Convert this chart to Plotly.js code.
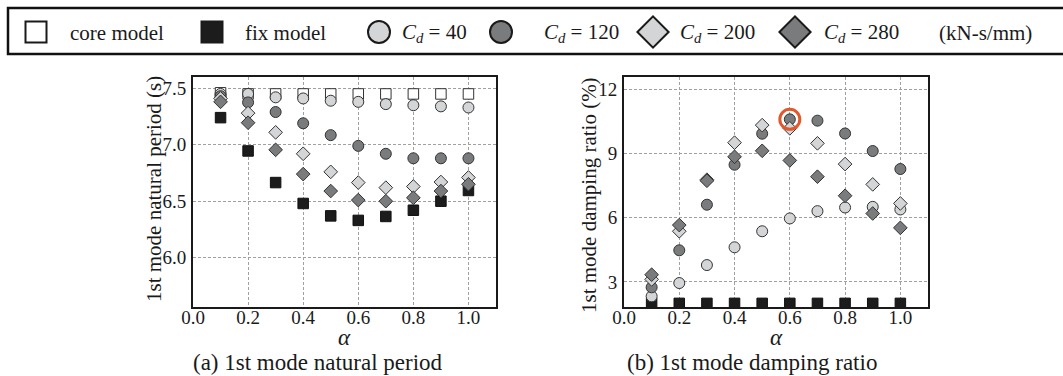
<!DOCTYPE html>
<html>
<head>
<meta charset="utf-8">
<script src="https://cdn.plot.ly/plotly-3.0.1.min.js"></script>
<style>
  html, body { margin: 0; padding: 0; background: #fff; }
  #chart { width: 1063px; height: 376px; }
</style>
</head>
<body>
<div id="chart"></div>
<script>
// Stiffness ratio alpha
const alpha = [0.1, 0.2, 0.3, 0.4, 0.5, 0.6, 0.7, 0.8, 0.9, 1.0];

// (a) 1st mode natural period (s)
const periodCore  = [7.46, 7.45, 7.45, 7.45, 7.45, 7.45, 7.45, 7.45, 7.45, 7.45];
const periodFix   = [7.24, 6.945, 6.665, 6.48, 6.37, 6.33, 6.365, 6.42, 6.50, 6.595];
const periodCd40  = [7.45, 7.45, 7.42, 7.41, 7.39, 7.38, 7.36, 7.35, 7.34, 7.33];
const periodCd120 = [7.43, 7.375, 7.29, 7.19, 7.085, 6.99, 6.92, 6.88, 6.88, 6.88];
const periodCd200 = [7.41, 7.28, 7.11, 6.92, 6.76, 6.665, 6.62, 6.63, 6.67, 6.71];
const periodCd280 = [7.38, 7.195, 6.955, 6.74, 6.59, 6.51, 6.50, 6.53, 6.59, 6.65];

// (b) 1st mode damping ratio (%)
const dampFix   = [2.0, 2.0, 2.0, 2.0, 2.0, 2.0, 2.0, 2.0, 2.0, 2.0];
const dampCd40  = [2.33, 2.95, 3.79, 4.62, 5.37, 5.97, 6.31, 6.48, 6.51, 6.39];
const dampCd120 = [2.75, 4.48, 6.61, 8.48, 9.93, 10.6, 10.54, 9.94, 9.12, 8.28];
const dampCd200 = [3.12, 5.37, 7.78, 9.51, 10.33, 10.18, 9.48, 8.51, 7.56, 6.67];
const dampCd280 = [3.34, 5.66, 7.73, 8.85, 9.13, 8.68, 7.92, 7.03, 6.20, 5.53];

// Peak damping case marked with a ring (C_d = 120, alpha = 0.6)
const peakIndex = 5;

// Tick labels
const xTicks = [0.0, 0.2, 0.4, 0.6, 0.8, 1.0];
const periodTicks = [6.0, 6.5, 7.0, 7.5];
const dampTicks = [3, 6, 9, 12];

// Legend entries
const legendLabels = ['core model', 'fix model',
  '<i>C</i><sub><i>d</i></sub> = 40', '<i>C</i><sub><i>d</i></sub> = 120',
  '<i>C</i><sub><i>d</i></sub> = 200', '<i>C</i><sub><i>d</i></sub> = 280'];
const unitLabel = '(kN-s/mm)';

// ---------------- styling ----------------
const W = 1063, H = 376;
const FONT = 'Liberation Serif, "Times New Roman", Times, serif';
const INK = '#1a1a1a';
const LIGHT = '#d4d5d7';
const DARK = '#7a7b7d';
const EDGE = '#333333';

const styles = {
  core:  { symbol: 'square',  color: '#ffffff', size: 10.5 },
  fix:   { symbol: 'square',  color: '#1c1c1c', size: 10.5 },
  cd40:  { symbol: 'circle',  color: LIGHT,     size: 11 },
  cd120: { symbol: 'circle',  color: DARK,      size: 11 },
  cd200: { symbol: 'diamond', color: LIGHT,     size: 10.5 },
  cd280: { symbol: 'diamond', color: DARK,      size: 10.5 }
};

function pts(y, st, xa, ya) {
  return {
    type: 'scatter', mode: 'markers', x: alpha, y: y, xaxis: xa, yaxis: ya,
    showlegend: false, hoverinfo: 'skip',
    marker: { symbol: st.symbol, size: st.size, color: st.color,
              line: { color: st.symbol === 'square' && st.color !== '#ffffff' ? '#111' : EDGE, width: 1 } }
  };
}

const traces = [
  pts(periodCore,  styles.core,  'x', 'y'),
  pts(periodFix,   styles.fix,   'x', 'y'),
  pts(periodCd40,  styles.cd40,  'x', 'y'),
  pts(periodCd120, styles.cd120, 'x', 'y'),
  pts(periodCd200, styles.cd200, 'x', 'y'),
  pts(periodCd280, styles.cd280, 'x', 'y'),

  pts(dampFix,   styles.fix,   'x2', 'y2'),
  pts(dampCd40,  styles.cd40,  'x2', 'y2'),
  pts(dampCd120, styles.cd120, 'x2', 'y2'),
  pts(dampCd200, styles.cd200, 'x2', 'y2'),
  pts(dampCd280, styles.cd280, 'x2', 'y2'),

  { type: 'scatter', mode: 'markers', xaxis: 'x2', yaxis: 'y2',
    x: [alpha[peakIndex]], y: [dampCd120[peakIndex]],
    showlegend: false, hoverinfo: 'skip', cliponaxis: false,
    marker: { symbol: 'circle-open', size: 20, color: '#e0582c', line: { color: '#e0582c', width: 3 } } }
];

// Legend keys drawn on a pixel-scaled overlay axis
const keyX = [36, 212, 379, 501, 653, 795];
const keyY = 32;
const keyStyles = [
  { symbol: 'square',  color: '#ffffff', size: 21 },
  { symbol: 'square',  color: '#1c1c1c', size: 21 },
  { symbol: 'circle',  color: LIGHT,     size: 22 },
  { symbol: 'circle',  color: DARK,      size: 22 },
  { symbol: 'diamond', color: LIGHT,     size: 24 },
  { symbol: 'diamond', color: DARK,      size: 24 }
];
keyStyles.forEach((st, i) => {
  traces.push({
    type: 'scatter', mode: 'markers', xaxis: 'x3', yaxis: 'y3',
    x: [keyX[i]], y: [keyY], showlegend: false, hoverinfo: 'skip', cliponaxis: false,
    marker: { symbol: st.symbol, size: st.size, color: st.color,
              line: { color: '#1a1a1a', width: 2 } }
  });
});

const textX = [68, 243, 400, 542, 678, 822];
const px = v => v / W;
const py = v => 1 - v / H;

const annotations = [];
legendLabels.forEach((t, i) => {
  annotations.push({ xref: 'paper', yref: 'paper', x: px(textX[i]), y: py(33),
    xanchor: 'left', yanchor: 'middle', showarrow: false, text: t,
    font: { family: FONT, size: 21, color: INK } });
});
annotations.push({ xref: 'paper', yref: 'paper', x: px(937), y: py(33),
  xanchor: 'left', yanchor: 'middle', showarrow: false, text: unitLabel,
  font: { family: FONT, size: 21, color: INK } });

// Axis titles
annotations.push({ xref: 'paper', yref: 'paper', x: px(154), y: py(189), textangle: -90,
  xanchor: 'center', yanchor: 'middle', showarrow: false,
  text: '1st mode natural period (s)', font: { family: FONT, size: 21, color: INK } });
annotations.push({ xref: 'paper', yref: 'paper', x: px(589), y: py(195), textangle: -90,
  xanchor: 'center', yanchor: 'middle', showarrow: false,
  text: '1st mode damping ratio (%)', font: { family: FONT, size: 21, color: INK } });
annotations.push({ xref: 'paper', yref: 'paper', x: px(344), y: py(337),
  xanchor: 'center', yanchor: 'middle', showarrow: false,
  text: '<i>α</i>', font: { family: FONT, size: 23, color: INK } });
annotations.push({ xref: 'paper', yref: 'paper', x: px(776), y: py(337),
  xanchor: 'center', yanchor: 'middle', showarrow: false,
  text: '<i>α</i>', font: { family: FONT, size: 23, color: INK } });

// Sub-figure captions
annotations.push({ xref: 'paper', yref: 'paper', x: px(318), y: py(362),
  xanchor: 'center', yanchor: 'middle', showarrow: false,
  text: '(a) 1st mode natural period', font: { family: FONT, size: 23, color: INK } });
annotations.push({ xref: 'paper', yref: 'paper', x: px(752), y: py(362),
  xanchor: 'center', yanchor: 'middle', showarrow: false,
  text: '(b) 1st mode damping ratio', font: { family: FONT, size: 23, color: INK } });

const tickFont = { family: FONT, size: 19, color: INK };
function axis(domain, range, tickvals, fmt) {
  return {
    domain: domain, range: range, tickvals: tickvals, tickformat: fmt,
    ticks: '', ticklen: 0, showline: true, mirror: true, linecolor: '#1a1a1a', linewidth: 2,
    showgrid: true, gridcolor: '#a0a0a0', gridwidth: 1, griddash: '3px,2px',
    zeroline: false, tickfont: tickFont, automargin: false, fixedrange: true
  };
}

const yDom = [1 - 307 / H, 1 - 77 / H];
const layout = {
  width: W, height: H,
  margin: { l: 0, r: 0, t: 0, b: 0, pad: 0 },
  paper_bgcolor: '#ffffff', plot_bgcolor: 'rgba(0,0,0,0)',
  showlegend: false,
  font: { family: FONT, color: INK },
  xaxis:  Object.assign(axis([193 / W, 496 / W], [0, 1.1], xTicks, '.1f'), { anchor: 'y', ticklabelstandoff: -8 }),
  yaxis:  Object.assign(axis(yDom, [5.563, 7.6], periodTicks, '.1f'), { anchor: 'x', ticklabelstandoff: 1 }),
  xaxis2: Object.assign(axis([624 / W, 928 / W], [0, 1.1], xTicks, '.1f'), { anchor: 'y2', ticklabelstandoff: -8 }),
  yaxis2: Object.assign(axis(yDom, [1.83, 12.58], dampTicks, 'd'), { anchor: 'x2', ticklabelstandoff: 1 }),
  xaxis3: { domain: [0, 1], range: [0, W], visible: false, fixedrange: true, anchor: 'y3' },
  yaxis3: { domain: [0, 1], range: [H, 0], visible: false, fixedrange: true, anchor: 'x3' },
  shapes: [
    { type: 'rect', xref: 'paper', yref: 'paper', x0: px(8), x1: px(1075), y0: py(54), y1: py(8),
      line: { color: '#111111', width: 2.5 }, fillcolor: 'rgba(0,0,0,0)' }
  ],
  annotations: annotations
};

Plotly.newPlot('chart', traces, layout, { staticPlot: true, displayModeBar: false });
</script>
</body>
</html>
